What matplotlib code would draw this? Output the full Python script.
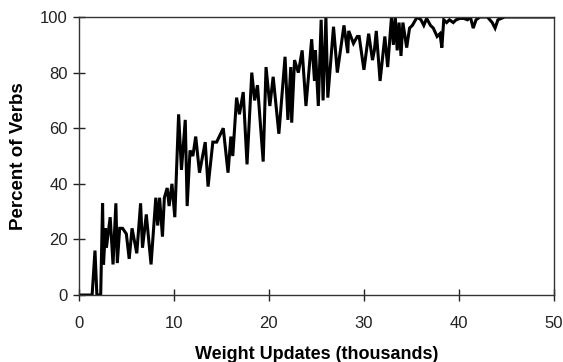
import matplotlib
matplotlib.use('Agg')
import matplotlib.pyplot as plt

# values (peaks and troughs of the curve)
x_k = [0, 1.4, 1.7, 1.9, 2.3, 2.5, 2.6, 2.8, 2.9, 3.3,
       3.6, 3.9, 4.05, 4.3, 4.6, 5.0, 5.3, 5.6, 6.1, 6.5,
       6.7, 7.1, 7.6, 8.1, 8.3, 8.5, 8.8, 9.0, 9.3, 9.5,
       9.8, 10.1, 10.5, 10.8, 11.2, 11.4, 11.7, 12.0, 12.3, 12.7,
       13.3, 13.6, 14.1, 14.5, 15.2, 15.7, 16.0, 16.2, 16.6, 16.9,
       17.3, 17.7, 18.2, 18.5, 18.8, 19.4, 19.7, 20.1, 20.45, 21.05,
       21.7, 22.0, 22.3, 22.4, 22.7, 23.1, 23.5, 23.9, 24.5, 24.8,
       24.9, 25.2, 25.5, 25.7, 26.0, 26.2, 26.8, 27.2, 27.9, 28.3,
       28.4, 28.9, 29.3, 29.5, 30.0, 30.5, 30.9, 31.1, 31.3, 31.7,
       32.2, 32.5, 32.9, 33.1, 33.3, 33.5, 33.7, 33.9, 34.1, 34.5,
       34.8, 35.1, 35.6, 36.0, 36.3, 36.6, 37.0, 37.3, 37.7, 38.0,
       38.2, 38.4, 38.7, 39.0, 39.4, 39.7, 40.1, 40.5, 40.9, 41.2,
       41.5, 41.8, 42.2, 43.0, 43.5, 43.8, 44.1, 44.8, 50]
pct = [0, 0, 16, 0, 0, 33, 11, 24, 17, 28,
       11, 33, 11.5, 24, 24, 22, 13, 24, 15, 33,
       17, 29, 11, 35, 25, 35, 21, 35, 38.5, 32,
       40, 28, 65, 45, 63, 32, 52, 50, 57, 44,
       55, 39, 55, 55, 60, 44, 57, 50, 71, 65,
       73, 47, 80, 70, 75.5, 48, 82, 68, 78.5, 58,
       85.7, 63, 82, 62, 84.5, 80, 88, 68, 92, 77,
       88, 68, 99, 70, 100, 71, 96.5, 80, 97, 87,
       95, 90.5, 93, 93, 81, 94, 84.5, 88, 95, 77,
       93, 82, 100, 90, 100, 88, 98, 86, 98, 89,
       96, 97, 100, 99, 97, 99.5, 97, 96, 93, 94,
       89, 99, 98, 99, 98, 99, 99.5, 99.5, 99, 100,
       96, 99, 100, 100, 98, 96, 99, 100, 100]

xticks = [0, 10, 20, 30, 40, 50]
yticks = [0, 20, 40, 60, 80, 100]

plt.rcParams['font.family'] = ['Liberation Sans', 'DejaVu Sans']

fig = plt.figure(figsize=(5.63, 3.62), dpi=100)
ax = fig.add_axes([0.140, 0.185, 0.844, 0.768])

ax.plot(x_k, pct, color='black', lw=2.2, solid_joinstyle='miter')

ax.set_xlim(0, 50)
ax.set_ylim(0, 100)
ax.set_xticks(xticks)
ax.set_yticks(yticks)
ax.tick_params(direction='inout', length=8, width=1.0, labelsize=12,
               colors='#222222')
ax.tick_params(axis='x', pad=11)
ax.tick_params(axis='y', pad=4)
for sp in ax.spines.values():
    sp.set_linewidth(1.0)
    sp.set_color('#333333')

ax.set_xlabel('Weight Updates (thousands)', fontsize=13, fontweight='bold',
              labelpad=11)
ax.set_ylabel('Percent of Verbs', fontsize=13.5, fontweight='bold', labelpad=9)

fig.savefig('out.png', dpi=100)
